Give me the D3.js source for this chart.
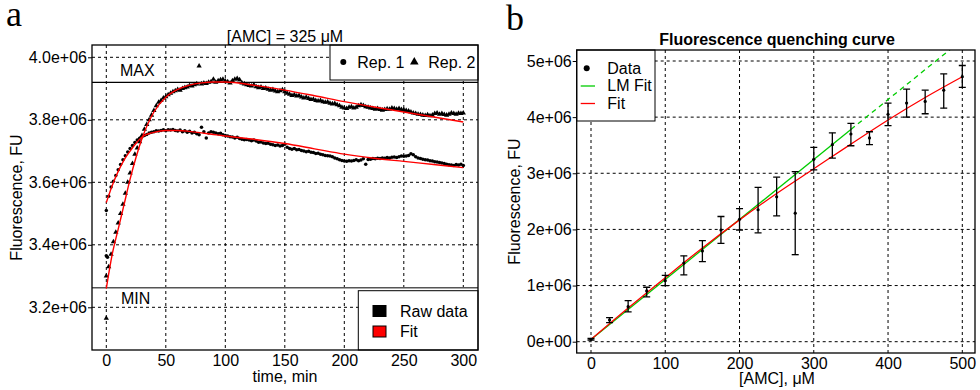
<!DOCTYPE html>
<html>
<head>
<meta charset="utf-8">
<script src="https://cdn.jsdelivr.net/npm/d3@7"></script>
<style>
  body { margin: 0; background: #fff; }
  svg { display: block; font-family: "Liberation Sans", Arial, sans-serif; }
</style>
</head>
<body>
<svg id="chart" width="980" height="390"></svg>
<script>
// ---- panel a : kinetics at [AMC] = 325 uM (values in 1e6 FU) ----
const timeStep = 2; // minutes between readings
const rep1 = [3.51, 3.555, 3.585, 3.603, 3.622, 3.64, 3.657, 3.672, 3.685, 3.697,
  3.708, 3.718, 3.727, 3.735, 3.741, 3.746, 3.75, 3.753, 3.758, 3.76,
  3.762, 3.765, 3.764, 3.766, 3.768, 3.765, 3.768, 3.767, 3.769, 3.766,
  3.764, 3.767, 3.762, 3.765, 3.76, 3.763, 3.758, 3.76, 3.755, 3.752,
  3.776, 3.762, 3.742, 3.758, 3.762, 3.76, 3.758, 3.755, 3.757, 3.752,
  3.75, 3.748, 3.746, 3.745, 3.742, 3.744, 3.74, 3.738, 3.736, 3.737,
  3.735, 3.733, 3.735, 3.732, 3.728, 3.729, 3.726, 3.724, 3.725, 3.722,
  3.72, 3.718, 3.719, 3.716, 3.718, 3.722, 3.712, 3.708, 3.706, 3.708,
  3.704, 3.705, 3.702, 3.70, 3.698, 3.699, 3.696, 3.695, 3.692, 3.693,
  3.69, 3.688, 3.686, 3.685, 3.684, 3.682, 3.678, 3.675, 3.672, 3.67,
  3.668, 3.667, 3.669, 3.668, 3.67, 3.672, 3.669, 3.671, 3.675, 3.658,
  3.673, 3.674, 3.676, 3.675, 3.677, 3.676, 3.678, 3.677, 3.679, 3.678,
  3.68, 3.681, 3.679, 3.682, 3.684, 3.683, 3.684, 3.686, 3.691, 3.688,
  3.682, 3.678, 3.676, 3.674, 3.672, 3.671, 3.669, 3.668, 3.666, 3.665,
  3.663, 3.662, 3.66, 3.658, 3.656, 3.655, 3.654, 3.657, 3.655, 3.658,
  3.654];
const rep2 = [3.30, 3.33, 3.37, 3.41, 3.44, 3.47, 3.50, 3.53, 3.565, 3.60,
  3.63, 3.66, 3.69, 3.71, 3.73, 3.75, 3.77, 3.785, 3.80, 3.815,
  3.83, 3.845, 3.856, 3.862, 3.87, 3.874, 3.88, 3.885, 3.89, 3.893,
  3.897, 3.895, 3.90, 3.903, 3.905, 3.91, 3.908, 3.912, 3.915, 3.972,
  3.915, 3.918, 3.916, 3.92, 3.922, 3.93, 3.92, 3.925, 3.928, 3.93,
  3.924, 3.922, 3.918, 3.925, 3.93, 3.932, 3.928, 3.918, 3.915, 3.912,
  3.91, 3.908, 3.912, 3.906, 3.903, 3.905, 3.90, 3.902, 3.898, 3.895,
  3.897, 3.892, 3.89, 3.893, 3.896, 3.89, 3.885, 3.882, 3.878, 3.88,
  3.876, 3.878, 3.873, 3.87, 3.872, 3.868, 3.865, 3.866, 3.862, 3.86,
  3.862, 3.858, 3.856, 3.857, 3.853, 3.851, 3.852, 3.848, 3.845, 3.84,
  3.838, 3.836, 3.84, 3.842, 3.838, 3.84, 3.845, 3.848, 3.846, 3.842,
  3.84, 3.838, 3.836, 3.834, 3.836, 3.833, 3.831, 3.833, 3.835, 3.834,
  3.838, 3.836, 3.834, 3.836, 3.833, 3.832, 3.83, 3.828, 3.825, 3.822,
  3.82, 3.818, 3.817, 3.815, 3.814, 3.816, 3.813, 3.815, 3.82, 3.822,
  3.818, 3.82, 3.817, 3.815, 3.818, 3.822, 3.82, 3.818, 3.821, 3.82,
  3.822];
// stray first readings
const rep1Extra = [[0, 3.365], [1, 3.36]];
const rep2Extra = [[0, 3.165]];

const fitTime = [0, 5, 10, 15, 20, 25, 30, 40, 50, 60, 70, 80, 90, 100, 125, 150, 175, 200, 225, 250, 275, 300];
const fit1 = [3.535, 3.59, 3.635, 3.672, 3.70, 3.725, 3.745, 3.76, 3.766, 3.766, 3.763, 3.758, 3.753, 3.748,
  3.737, 3.724, 3.707, 3.69, 3.677, 3.667, 3.657, 3.647];
const fit2 = [3.26, 3.37, 3.45, 3.53, 3.61, 3.68, 3.74, 3.825, 3.872, 3.897, 3.911, 3.918, 3.921, 3.921,
  3.91, 3.895, 3.877, 3.858, 3.841, 3.825, 3.809, 3.793];
const maxLevel = 3.92, minLevel = 3.2627;

const aXTicks = [0, 50, 100, 150, 200, 250, 300];
const aYTicks = [3.2, 3.4, 3.6, 3.8, 4.0];
const aYLabels = ["3.2e+06", "3.4e+06", "3.6e+06", "3.8e+06", "4.0e+06"];

// ---- panel b : quenching curve ----
const conc = [0, 25, 50, 75, 100, 125, 150, 175, 200, 225, 250, 275, 300, 325, 350, 375, 400, 425, 450, 475, 500];
const fluor = [0.043, 0.387, 0.624, 0.904, 1.087, 1.40, 1.617, 1.99, 2.18, 2.35, 2.58, 2.29, 3.25, 3.51, 3.70, 3.63, 4.05, 4.25, 4.28, 4.48, 4.72];
const errLo = [0.03, 0.34, 0.53, 0.80, 1.0, 1.19, 1.426, 1.75, 1.99, 1.94, 2.24, 1.55, 3.06, 3.27, 3.49, 3.51, 3.85, 4.0, 4.06, 4.16, 4.53];
const errHi = [0.06, 0.43, 0.73, 0.97, 1.18, 1.53, 1.80, 2.23, 2.37, 2.75, 2.93, 3.03, 3.46, 3.72, 3.89, 3.74, 4.25, 4.5, 4.48, 4.77, 4.92];
const lmConc = [0, 350, 500];
const lmVal = [0.04, 3.78, 5.38];
const fitConc = [0, 50, 100, 150, 200, 250, 300, 350, 400, 450, 500];
const fitVal = [0.04, 0.60, 1.14, 1.67, 2.17, 2.64, 3.08, 3.52, 3.95, 4.35, 4.72];

const bXTicks = [0, 100, 200, 300, 400, 500];
const bYTicks = [0, 1, 2, 3, 4, 5];
const bYLabels = ["0e+00", "1e+06", "2e+06", "3e+06", "4e+06", "5e+06"];

const svg = d3.select("#chart");
const FS = 16;

function grid(g, x, y, xt, yt, box) {
  g.selectAll(".gx").data(xt).enter().append("line")
    .attr("x1", d => x(d)).attr("x2", d => x(d))
    .attr("y1", box.y0).attr("y2", box.y1);
  g.selectAll(".gy").data(yt).enter().append("line")
    .attr("y1", d => y(d)).attr("y2", d => y(d))
    .attr("x1", box.x0).attr("x2", box.x1);
  g.selectAll("line").attr("stroke", "#000").attr("stroke-width", 1)
    .attr("stroke-dasharray", "3,3");
}

function axes(x, y, xt, yt, ylab, box) {
  const ya = svg.append("g").attr("transform", `translate(${box.x0},0)`)
    .call(d3.axisLeft(y).tickValues(yt).tickSize(4).tickSizeOuter(0).tickPadding(1)
      .tickFormat((d, i) => ylab[i]));
  ya.select(".domain").remove();
  const xa = svg.append("g").attr("transform", `translate(0,${box.y1})`)
    .call(d3.axisBottom(x).tickValues(xt).tickSize(0).tickSizeOuter(0).tickPadding(5));
  xa.select(".domain").remove();
  svg.selectAll(".tick text").attr("font-size", FS).attr("font-family", "Liberation Sans, Arial, sans-serif")
    .attr("fill", "#000");
}

// ================= panel a =================
{
  const box = {x0: 92, x1: 478, y0: 45, y1: 350};
  const x = d3.scaleLinear().domain([0, 300]).range([106.3, 463.3]);
  const y = d3.scaleLinear().domain([3.2, 4.0]).range([307.3, 57.3]);

  svg.append("defs").append("clipPath").attr("id", "clipA")
    .append("rect").attr("x", box.x0).attr("y", box.y0)
    .attr("width", box.x1 - box.x0).attr("height", box.y1 - box.y0);

  grid(svg.append("g"), x, y, aXTicks, aYTicks, box);

  const g = svg.append("g").attr("clip-path", "url(#clipA)");
  g.append("line").attr("x1", box.x0).attr("x2", box.x1)
    .attr("y1", y(maxLevel)).attr("y2", y(maxLevel)).attr("stroke", "#000").attr("stroke-width", 1.3);
  g.append("line").attr("x1", box.x0).attr("x2", box.x1)
    .attr("y1", y(minLevel)).attr("y2", y(minLevel)).attr("stroke", "#555").attr("stroke-width", 1.6);

  const p1 = rep1.map((v, i) => [i * timeStep, v]).concat(rep1Extra);
  const p2 = rep2.map((v, i) => [i * timeStep, v]).concat(rep2Extra);
  g.selectAll(".r1").data(p1).enter().append("circle")
    .attr("cx", d => x(d[0])).attr("cy", d => y(d[1])).attr("r", 1.75).attr("fill", "#000");
  const tri = d3.symbol(d3.symbolTriangle, 12);
  g.selectAll(".r2").data(p2).enter().append("path")
    .attr("d", tri).attr("transform", d => `translate(${x(d[0])},${y(d[1])})`).attr("fill", "#000");

  const line = d3.line().x(d => x(d[0])).y(d => y(d[1])).curve(d3.curveMonotoneX);
  [fit1, fit2].forEach(f => {
    g.append("path").attr("d", line(fitTime.map((t, i) => [t, f[i]])))
      .attr("fill", "none").attr("stroke", "#f00").attr("stroke-width", 1.4);
  });

  svg.append("text").attr("x", 120).attr("y", 76).attr("font-size", FS).text("MAX");
  svg.append("text").attr("x", 121).attr("y", 304).attr("font-size", FS).text("MIN");

  // top legend
  svg.append("rect").attr("x", 330).attr("y", box.y0).attr("width", box.x1 - 330).attr("height", 35)
    .attr("fill", "#fff").attr("stroke", "#000");
  svg.append("circle").attr("cx", 343.3).attr("cy", 62).attr("r", 3).attr("fill", "#000");
  svg.append("path").attr("d", d3.symbol(d3.symbolTriangle, 32)).attr("transform", "translate(414.3,62)");
  svg.append("text").attr("x", 357.3).attr("y", 68).attr("font-size", FS).text("Rep. 1");
  svg.append("text").attr("x", 428.3).attr("y", 68).attr("font-size", FS).text("Rep. 2");

  // bottom legend
  svg.append("rect").attr("x", 358.3).attr("y", 290.7).attr("width", box.x1 - 358.3).attr("height", box.y1 - 290.7)
    .attr("fill", "#fff").attr("stroke", "#000");
  [["Raw data", "#000", 311], ["Fit", "#f00", 331.5]].forEach(([lab, c, cy]) => {
    svg.append("rect").attr("x", 373).attr("y", cy - 5.5).attr("width", 13).attr("height", 11)
      .attr("fill", c).attr("stroke", "#000");
    svg.append("text").attr("x", 400).attr("y", cy + 5.5).attr("font-size", FS).text(lab);
  });

  svg.append("rect").attr("x", box.x0).attr("y", box.y0).attr("width", box.x1 - box.x0)
    .attr("height", box.y1 - box.y0).attr("fill", "none").attr("stroke", "#000").attr("stroke-width", 1.3);

  axes(x, y, aXTicks, aYTicks, aYLabels, box);

  svg.append("text").attr("x", 285).attr("y", 41.5).attr("text-anchor", "middle").attr("font-size", FS)
    .text("[AMC] = 325 \u03bcM");
  svg.append("text").attr("x", 285).attr("y", 381.5).attr("text-anchor", "middle").attr("font-size", FS)
    .text("time, min");
  svg.append("text").attr("transform", `translate(21.5,${(box.y0 + box.y1) / 2}) rotate(-90)`)
    .attr("text-anchor", "middle").attr("font-size", FS).text("Fluorescence, FU");
  svg.append("text").attr("x", 6).attr("y", 26).attr("font-family", "Liberation Serif, serif")
    .attr("font-size", 36).text("a");
}

// ================= panel b =================
{
  const box = {x0: 576.7, x1: 975, y0: 50, y1: 353};
  const x = d3.scaleLinear().domain([0, 500]).range([591, 962.3]);
  const y = d3.scaleLinear().domain([0, 5]).range([341.7, 61]);

  svg.select("defs").append("clipPath").attr("id", "clipB")
    .append("rect").attr("x", box.x0).attr("y", box.y0)
    .attr("width", box.x1 - box.x0).attr("height", box.y1 - box.y0);

  grid(svg.append("g"), x, y, bXTicks, bYTicks, box);

  const g = svg.append("g").attr("clip-path", "url(#clipB)");
  const line = d3.line().x(d => x(d[0])).y(d => y(d[1]));

  g.append("path").attr("d", line([[lmConc[0], lmVal[0]], [lmConc[1], lmVal[1]]]))
    .attr("stroke", "#00cc00").attr("stroke-width", 1.3).attr("fill", "none");
  g.append("path").attr("d", line([[lmConc[1], lmVal[1]], [lmConc[2], lmVal[2]]]))
    .attr("stroke", "#00cc00").attr("stroke-width", 1.3).attr("fill", "none").attr("stroke-dasharray", "5,4");
  g.append("path").attr("d", line.curve(d3.curveMonotoneX)(fitConc.map((c, i) => [c, fitVal[i]])))
    .attr("stroke", "#f00").attr("stroke-width", 1.3).attr("fill", "none");

  const eb = g.selectAll(".eb").data(conc).enter().append("g").attr("stroke", "#000").attr("stroke-width", 1.3);
  eb.append("line").attr("x1", d => x(d)).attr("x2", d => x(d))
    .attr("y1", (d, i) => y(errLo[i])).attr("y2", (d, i) => y(errHi[i]));
  eb.append("line").attr("x1", d => x(d) - 3.5).attr("x2", d => x(d) + 3.5)
    .attr("y1", (d, i) => y(errLo[i])).attr("y2", (d, i) => y(errLo[i]));
  eb.append("line").attr("x1", d => x(d) - 3.5).attr("x2", d => x(d) + 3.5)
    .attr("y1", (d, i) => y(errHi[i])).attr("y2", (d, i) => y(errHi[i]));
  g.selectAll(".pt").data(conc).enter().append("circle")
    .attr("cx", d => x(d)).attr("cy", (d, i) => y(fluor[i])).attr("r", 1.6).attr("fill", "#000");

  // legend
  svg.append("rect").attr("x", box.x0).attr("y", box.y0).attr("width", 655 - box.x0).attr("height", 121 - box.y0)
    .attr("fill", "#fff").attr("stroke", "#000");
  svg.append("circle").attr("cx", 586.7).attr("cy", 68.3).attr("r", 3).attr("fill", "#000");
  svg.append("line").attr("x1", 580.7).attr("x2", 595).attr("y1", 86).attr("y2", 86)
    .attr("stroke", "#00cc00").attr("stroke-width", 1.3);
  svg.append("line").attr("x1", 580.7).attr("x2", 595).attr("y1", 103.5).attr("y2", 103.5)
    .attr("stroke", "#f00").attr("stroke-width", 1.3);
  [["Data", 73.5], ["LM Fit", 91], ["Fit", 108.5]].forEach(([lab, by]) => {
    svg.append("text").attr("x", 607.3).attr("y", by).attr("font-size", FS).text(lab);
  });

  svg.append("rect").attr("x", box.x0).attr("y", box.y0).attr("width", box.x1 - box.x0)
    .attr("height", box.y1 - box.y0).attr("fill", "none").attr("stroke", "#000").attr("stroke-width", 1.3);

  axes(x, y, bXTicks, bYTicks, bYLabels, box);

  svg.append("text").attr("x", 777).attr("y", 45).attr("text-anchor", "middle").attr("font-size", FS)
    .attr("font-weight", "bold").text("Fluorescence quenching curve");
  svg.append("text").attr("x", 777).attr("y", 384).attr("text-anchor", "middle").attr("font-size", FS)
    .text("[AMC], \u03bcM");
  svg.append("text").attr("transform", `translate(520,${(box.y0 + box.y1) / 2}) rotate(-90)`)
    .attr("text-anchor", "middle").attr("font-size", FS).text("Fluorescence, FU");
  svg.append("text").attr("x", 506).attr("y", 30).attr("font-family", "Liberation Serif, serif")
    .attr("font-size", 36).text("b");
}
</script>
</body>
</html>
